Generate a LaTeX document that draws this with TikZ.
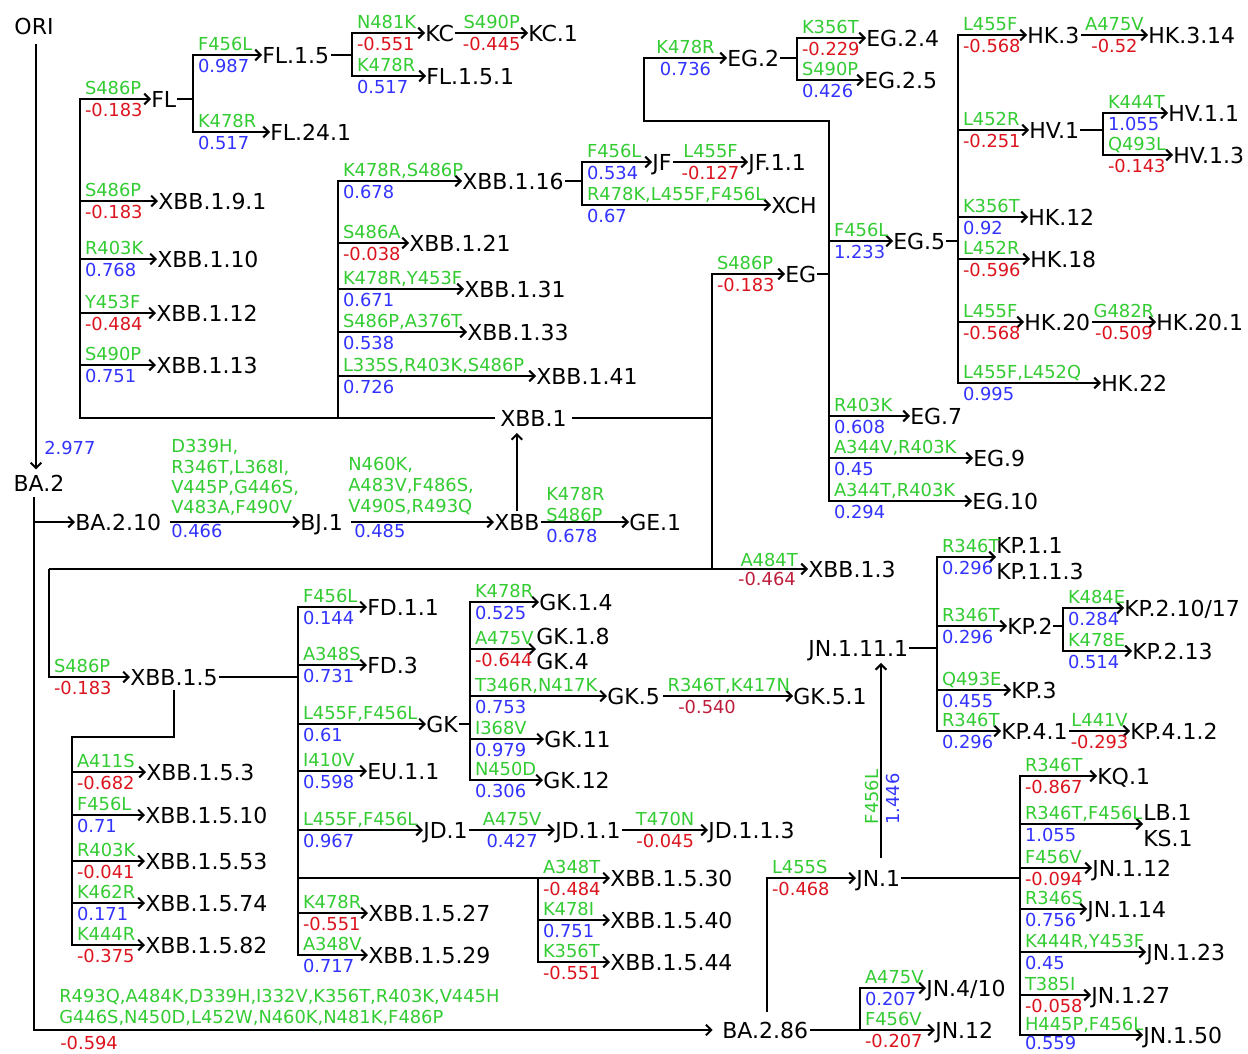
\documentclass[tikz,border=0pt]{standalone}
\usepackage{fontspec}
\setmainfont{DejaVu Sans}
\usetikzlibrary{arrows.meta}
\definecolor{cg}{RGB}{51,204,51}
\definecolor{cb}{RGB}{51,51,255}
\definecolor{cr}{RGB}{220,20,30}
\definecolor{crr}{RGB}{190,30,60}
\newcommand\bigf{\fontsize{16.5}{19}\selectfont}
\newcommand\smf{\fontsize{13.4}{16}\selectfont}
\newcommand\tbr[5]{\draw[ar] (#2.west -| #1) -- node[gup]{#3} node[ndn,text=#5]{#4} (#2.west);}
\newcommand\tmid[5]{\draw[ar] ([xshift=1pt]#1.east) -- node[gmid]{#3} node[nmid,text=#5]{#4} (#2.west);}
\tikzset{
  ln/.style={line width=1.5pt, line cap=rect},
  ar/.style={line width=1.5pt, -{Straight Barb[length=4pt,width=8pt]}},
  nd/.style={font=\bigf, inner sep=0pt, text height=12.03pt, text depth=0pt, anchor=west},
  pt/.style={inner sep=0pt, minimum size=0pt, anchor=west},
  sl/.style={font=\smf, inner sep=0pt, text height=9.7pt, text depth=0pt},
  gup/.style={sl, text=cg, pos=0, anchor=south west, xshift=3pt, yshift=2.6pt},
  ndn/.style={sl, pos=0, anchor=north west, xshift=3pt, yshift=-2.6pt},
  gmid/.style={sl, text=cg, midway, anchor=south, yshift=2.6pt},
  nmid/.style={sl, midway, anchor=north, yshift=-2.6pt},
  gl/.style={sl, text=cg, anchor=west},
}
\begin{document}
\begin{tikzpicture}[x=0.75pt,y=-0.75pt]
\useasboundingbox (0,0) rectangle (1248,1053);
\fill[white] (0,0) rectangle (1248,1053);
% vertical line positions
\foreach \v in {34,36,49,72,80,174,193,298,338,352,470,538,582,644,712,767,797,829,860,881,937,958,1020,1063,1103}
  {\coordinate (v\v) at (\v,0);}
\coordinate (c121) at (0,121);
\coordinate (c737) at (0,737);

% nodes
\node[nd, anchor=center] (ORI) at (34,26) {ORI};
\node[nd, anchor=center] (BA2) at (39,483) {BA.2};
\node[nd] (BA210) at (75,522) {BA.2.10};
\node[nd] (BJ1) at (300,522) {BJ.1};
\node[nd] (XBB) at (494,522) {XBB};
\node[nd] (GE1) at (629,522) {GE.1};
\node[nd] (XBB1) at (500,418) {XBB.1};
\node[nd] (FL) at (151,99) {FL};
\node[nd] (FL15) at (262,55) {FL.1.5};
\node[nd] (FL241) at (270,132) {FL.24.1};
\node[nd] (KC) at (425,33) {KC};
\node[nd] (KC1) at (528,33) {KC.1};
\node[nd] (FL151) at (426,76) {FL.1.5.1};
\node[nd] (XBB191) at (158,201) {XBB.1.9.1};
\node[nd] (XBB110) at (157,259) {XBB.1.10};
\node[nd] (XBB112) at (156,313) {XBB.1.12};
\node[nd] (XBB113) at (156,365) {XBB.1.13};
\node[nd] (XBB116) at (462,181) {XBB.1.16};
\node[nd] (XBB121) at (409,243) {XBB.1.21};
\node[nd] (XBB131) at (464,289) {XBB.1.31};
\node[nd] (XBB133) at (467,332) {XBB.1.33};
\node[nd] (XBB141) at (536,376) {XBB.1.41};
\node[nd] (JF) at (652,162) {JF};
\node[nd] (JF11) at (748,162) {JF.1.1};
\node[nd] (XCH) at (771,205) {XCH};
\node[nd] (EG2) at (727,58) {EG.2};
\node[nd] (EG24) at (866,38) {EG.2.4};
\node[nd] (EG25) at (864,80) {EG.2.5};
\node[nd] (EG) at (785,274) {EG};
\node[nd] (EG5) at (893,241) {EG.5};
\node[nd] (EG7) at (910,416) {EG.7};
\node[nd] (EG9) at (973,458) {EG.9};
\node[nd] (EG10) at (972,501) {EG.10};
\node[nd] (HK3) at (1027,35) {HK.3};
\node[nd] (HK314) at (1148,35) {HK.3.14};
\node[nd] (HV1) at (1029,130) {HV.1};
\node[nd] (HV11) at (1168,113) {HV.1.1};
\node[nd] (HV13) at (1173,155) {HV.1.3};
\node[nd] (HK12) at (1028,217) {HK.12};
\node[nd] (HK18) at (1030,259) {HK.18};
\node[nd] (HK20) at (1024,322) {HK.20};
\node[nd] (HK201) at (1156,322) {HK.20.1};
\node[nd] (HK22) at (1101,383) {HK.22};
\node[nd] (XBB13) at (808,569) {XBB.1.3};
\node[nd] (XBB15) at (130,677) {XBB.1.5};
\node[nd] (FD11) at (367,607) {FD.1.1};
\node[nd] (FD3) at (367,665) {FD.3};
\node[nd] (GK) at (426,724) {GK};
\node[nd] (EU11) at (367,771) {EU.1.1};
\node[nd] (JD1) at (423,830) {JD.1};
\node[nd] (JD11) at (555,830) {JD.1.1};
\node[nd] (JD113) at (708,830) {JD.1.1.3};
\node[nd] (XBB1527) at (368,913) {XBB.1.5.27};
\node[nd] (XBB1529) at (368,955) {XBB.1.5.29};
\node[nd] (XBB1530) at (610,878) {XBB.1.5.30};
\node[nd] (XBB1540) at (610,920) {XBB.1.5.40};
\node[nd] (XBB1544) at (610,962) {XBB.1.5.44};
\node[nd] (GK14) at (539,602) {GK.1.4};
\node[nd] (GK18) at (536,636) {GK.1.8};
\node[nd] (GK4) at (536,661) {GK.4};
\node[pt] (GK184) at (536,649) {};
\node[nd] (GK5) at (607,696) {GK.5};
\node[nd] (GK51) at (793,696) {GK.5.1};
\node[nd] (GK11) at (544,739) {GK.11};
\node[nd] (GK12) at (543,780) {GK.12};
\node[nd] (XBB153) at (146,772) {XBB.1.5.3};
\node[nd] (XBB1510) at (145,815) {XBB.1.5.10};
\node[nd] (XBB1553) at (145,861) {XBB.1.5.53};
\node[nd] (XBB1574) at (145,903) {XBB.1.5.74};
\node[nd] (XBB1582) at (145,945) {XBB.1.5.82};
\node[nd] (BA286) at (722,1030) {BA.2.86};
\node[nd] (JN1) at (856,878) {JN.1};
\node[nd] (JN111) at (808,648) {JN.1.11.1};
\node[nd] (KP11) at (996,545) {KP.1.1};
\node[nd] (KP113) at (996,571) {KP.1.1.3};
\node[pt] (KPc) at (996,557) {};
\node[nd] (KP2) at (1007,626) {KP.2};
\node[nd] (KP210) at (1124,608) {KP.2.10/17};
\node[nd] (KP213) at (1132,651) {KP.2.13};
\node[nd] (KP3) at (1011,690) {KP.3};
\node[nd] (KP41) at (1001,731) {KP.4.1};
\node[nd] (KP412) at (1130,731) {KP.4.1.2};
\node[nd] (KQ1) at (1097,776) {KQ.1};
\node[nd] (LB1) at (1143,812) {LB.1};
\node[nd] (KS1) at (1143,838) {KS.1};
\node[pt] (LBc) at (1143,824) {};
\node[nd] (JN112) at (1092,868) {JN.1.12};
\node[nd] (JN114) at (1087,909) {JN.1.14};
\node[nd] (JN123) at (1146,952) {JN.1.23};
\node[nd] (JN127) at (1091,995) {JN.1.27};
\node[nd] (JN150) at (1143,1035) {JN.1.50};
\node[nd] (JN410) at (926,988) {JN.4/10};
\node[nd] (JN12) at (935,1030) {JN.12};

% ORI -> BA.2
\draw[ar, shorten <=7.5pt, shorten >=4pt] (v36 |- ORI.south) -- (v36 |- BA2.north);
\node[sl, text=cb, anchor=west] (l2977) at (44,448) {2.977};
% BA.2 trunk
\draw[ar, shorten <=4.5pt, shorten >=7pt] (v34 |- BA2.south) -- (v34 |- BA286.west) -- (BA286.west);
\node[gl] (lb1) at (59,996) {R493Q,A484K,D339H,I332V,K356T,R403K,V445H};
\node[gl] (lb2) at (59,1017) {G446S,N450D,L452W,N460K,N481K,F486P};
\node[sl, text=cr, anchor=west] (lb3) at (60,1043) {-0.594};
\draw[ar] (v34 |- BA210.west) -- (BA210.west);
\draw[ar] ([xshift=6.5pt]BA210.east) -- (BJ1.west);
\node[gl] (lj1) at (171,446) {D339H,};
\node[gl] (lj2) at (171,467) {R346T,L368I,};
\node[gl] (lj3) at (171,487) {V445P,G446S,};
\node[gl] (lj4) at (171,507) {V483A,F490V};
\node[sl, text=cb, anchor=west] (lj5) at (171,531) {0.466};
\draw[ar] ([xshift=6pt]BJ1.east) -- (XBB.west);
\node[gl] (lx1) at (348,464) {N460K,};
\node[gl] (lx2) at (348,485) {A483V,F486S,};
\node[gl] (lx3) at (348,506) {V490S,R493Q};
\node[sl, text=cb, anchor=west] (lx4) at (354,531) {0.485};
\draw[ar] ([xshift=1pt]XBB.east) -- (GE1.west);
\node[gl] (lg1) at (546,494) {K478R};
\node[gl] (lg2) at (546,515) {S486P};
\node[sl, text=cb, anchor=west] (lg3) at (546,536) {0.678};
\draw[ar, shorten <=2pt, shorten >=5pt] (XBB.north) -- (XBB.north |- XBB1.south);

% XBB.1 left part
\draw[ln] ([xshift=-4.5pt]XBB1.west) -- (v80 |- XBB1.west);
\draw[ln] (v80 |- FL.west) -- (v80 |- XBB1.west);
\draw[ln] (v338 |- XBB116.west) -- (v338 |- XBB1.west);
\tbr{v80}{FL}{S486P}{-0.183}{cr}
\tbr{v80}{XBB191}{S486P}{-0.183}{cr}
\tbr{v80}{XBB110}{R403K}{0.768}{cb}
\tbr{v80}{XBB112}{Y453F}{-0.484}{cr}
\tbr{v80}{XBB113}{S490P}{0.751}{cb}
\draw[ln] ([xshift=1.5pt]FL.east) -- (v193 |- FL.east);
\draw[ln] (v193 |- FL15.west) -- (v193 |- FL241.west);
\tbr{v193}{FL15}{F456L}{0.987}{cb}
\tbr{v193}{FL241}{K478R}{0.517}{cb}
\draw[ln] ([xshift=2pt]FL15.east) -- (v352 |- FL15.east);
\draw[ln] (v352 |- KC.west) -- (v352 |- FL151.west);
\tbr{v352}{KC}{N481K}{-0.551}{cr}
\tbr{v352}{FL151}{K478R}{0.517}{cb}
\tmid{KC}{KC1}{S490P}{-0.445}{cr}
\tbr{v338}{XBB116}{K478R,S486P}{0.678}{cb}
\tbr{v338}{XBB121}{S486A}{-0.038}{cr}
\tbr{v338}{XBB131}{K478R,Y453F}{0.671}{cb}
\tbr{v338}{XBB133}{S486P,A376T}{0.538}{cb}
\tbr{v338}{XBB141}{L335S,R403K,S486P}{0.726}{cb}
\draw[ln] ([xshift=1.5pt]XBB116.east) -- (v582 |- XBB116.east);
\draw[ln] (v582 |- JF.west) -- (v582 |- XCH.west);
\tbr{v582}{JF}{F456L}{0.534}{cb}
\tbr{v582}{XCH}{R478K,L455F,F456L}{0.67}{cb}
\tmid{JF}{JF11}{L455F}{-0.127}{cr}

% XBB.1 right part and EG
\draw[ln] ([xshift=5pt]XBB1.east) -- (v712 |- XBB1.east);
\draw[ln] (v712 |- EG.west) -- (v712 |- XBB13.west);
\tbr{v712}{EG}{S486P}{-0.183}{cr}
\draw[ln] ([xshift=1.5pt]EG.east) -- (v829 |- EG.east);
\draw[ln] (v829 |- c121) -- (v829 |- EG10.west);
\draw[ar] (v829 |- c121) -- (v644 |- c121) -- (v644 |- EG2.west) -- node[gmid]{K478R} node[nmid,text=cb]{0.736} (EG2.west);
\draw[ln] ([xshift=1.5pt]EG2.east) -- (v797 |- EG2.east);
\draw[ln] (v797 |- EG24.west) -- (v797 |- EG25.west);
\tbr{v797}{EG24}{K356T}{-0.229}{cr}
\tbr{v797}{EG25}{S490P}{0.426}{cb}
\tbr{v829}{EG5}{F456L}{1.233}{cb}
\tbr{v829}{EG7}{R403K}{0.608}{cb}
\tbr{v829}{EG9}{A344V,R403K}{0.45}{cb}
\tbr{v829}{EG10}{A344T,R403K}{0.294}{cb}
\draw[ln] ([xshift=1pt]EG5.east) -- (v958 |- EG5.east);
\draw[ln] (v958 |- HK3.west) -- (v958 |- HK22.west);
\tbr{v958}{HK3}{L455F}{-0.568}{cr}
\tbr{v958}{HV1}{L452R}{-0.251}{cr}
\tbr{v958}{HK12}{K356T}{0.92}{cb}
\tbr{v958}{HK18}{L452R}{-0.596}{cr}
\tbr{v958}{HK20}{L455F}{-0.568}{cr}
\tbr{v958}{HK22}{L455F,L452Q}{0.995}{cb}
\tmid{HK3}{HK314}{A475V}{-0.52}{cr}
\tmid{HK20}{HK201}{G482R}{-0.509}{cr}
\draw[ln] ([xshift=1.5pt]HV1.east) -- (v1103 |- HV1.east);
\draw[ln] (v1103 |- HV11.west) -- (v1103 |- HV13.west);
\tbr{v1103}{HV11}{K444T}{1.055}{cb}
\tbr{v1103}{HV13}{Q493L}{-0.143}{cr}

% XBB.1.3 and XBB.1.5
\draw[ar] (v49 |- XBB13.west) -- (XBB13.west);
\node[gl, anchor=east] (la1) at (798,560) {A484T};
\node[sl, text=crr, anchor=east] (la2) at (796,579) {-0.464};
\draw[ar] (v49 |- XBB13.west) -- (v49 |- XBB15.west) -- node[gup]{S486P} node[ndn,text=cr]{-0.183} (XBB15.west);
\draw[ln] ([xshift=1.5pt]XBB15.east) -- (v298 |- XBB15.east);
\draw[ln] (v298 |- FD11.west) -- (v298 |- XBB1529.west);
\tbr{v298}{FD11}{F456L}{0.144}{cb}
\tbr{v298}{FD3}{A348S}{0.731}{cb}
\tbr{v298}{GK}{L455F,F456L}{0.61}{cb}
\tbr{v298}{EU11}{I410V}{0.598}{cb}
\tbr{v298}{JD1}{L455F,F456L}{0.967}{cb}
\tbr{v298}{XBB1527}{K478R}{-0.551}{cr}
\tbr{v298}{XBB1529}{A348V}{0.717}{cb}
\draw[ln] (v298 |- XBB1530.west) -- (v538 |- XBB1530.west);
\draw[ln] (v538 |- XBB1530.west) -- (v538 |- XBB1544.west);
\tbr{v538}{XBB1530}{A348T}{-0.484}{cr}
\tbr{v538}{XBB1540}{K478I}{0.751}{cb}
\tbr{v538}{XBB1544}{K356T}{-0.551}{cr}
\tmid{JD1}{JD11}{A475V}{0.427}{cb}
\tmid{JD11}{JD113}{T470N}{-0.045}{cr}
\draw[ln] ([xshift=1.5pt]GK.east) -- (v470 |- GK.east);
\draw[ln] (v470 |- GK14.west) -- (v470 |- GK12.west);
\tbr{v470}{GK14}{K478R}{0.525}{cb}
\tbr{v470}{GK184}{A475V}{-0.644}{cr}
\tbr{v470}{GK5}{T346R,N417K}{0.753}{cb}
\tbr{v470}{GK11}{I368V}{0.979}{cb}
\tbr{v470}{GK12}{N450D}{0.306}{cb}
\draw[ar] ([xshift=2pt]GK5.east) -- node[gup]{R346T,K417N} (GK51.west);
\node[sl, text=crr, anchor=west] (l540) at (678,707) {-0.540};
\draw[ln] ([yshift=-4pt]XBB15.south -| v174) -- (v174 |- c737) -- (v72 |- c737) -- (v72 |- XBB1582.west);
\tbr{v72}{XBB153}{A411S}{-0.682}{cr}
\tbr{v72}{XBB1510}{F456L}{0.71}{cb}
\tbr{v72}{XBB1553}{R403K}{-0.041}{cr}
\tbr{v72}{XBB1574}{K462R}{0.171}{cb}
\tbr{v72}{XBB1582}{K444R}{-0.375}{cr}

% BA.2.86 and JN.1
\draw[ar, shorten <=7.5pt] (v767 |- BA286.north) -- (v767 |- JN1.west) -- node[gup]{L455S} node[ndn,text=cr]{-0.468} (JN1.west);
\draw[ln] ([xshift=2pt]BA286.east) -- (v860 |- BA286.east);
\draw[ln] (v860 |- JN410.west) -- (v860 |- JN12.west);
\tbr{v860}{JN410}{A475V}{0.207}{cb}
\tbr{v860}{JN12}{F456V}{-0.207}{cr}
\draw[ar, shorten <=9pt, shorten >=5pt] (v881 |- JN1.north) -- (v881 |- JN111.south);
\node[sl, text=cg, rotate=90] (lf1) at (872,797) {F456L};
\node[sl, text=cb, rotate=90] (lf2) at (893,799) {1.446};
\draw[ln] ([xshift=1.5pt]JN111.east) -- (v937 |- JN111.east);
\draw[ln] (v937 |- KPc.west) -- (v937 |- KP41.west);
\tbr{v937}{KPc}{R346T}{0.296}{cb}
\tbr{v937}{KP2}{R346T}{0.296}{cb}
\tbr{v937}{KP3}{Q493E}{0.455}{cb}
\tbr{v937}{KP41}{R346T}{0.296}{cb}
\draw[ln] ([xshift=1pt]KP2.east) -- (v1063 |- KP2.east);
\draw[ln] (v1063 |- KP210.west) -- (v1063 |- KP213.west);
\tbr{v1063}{KP210}{K484E}{0.284}{cb}
\tbr{v1063}{KP213}{K478E}{0.514}{cb}
\tmid{KP41}{KP412}{L441V}{-0.293}{cr}
\draw[ln] ([xshift=1.5pt]JN1.east) -- (v1020 |- JN1.east);
\draw[ln] (v1020 |- KQ1.west) -- (v1020 |- JN150.west);
\tbr{v1020}{KQ1}{R346T}{-0.867}{cr}
\tbr{v1020}{LBc}{R346T,F456L}{1.055}{cb}
\tbr{v1020}{JN112}{F456V}{-0.094}{cr}
\tbr{v1020}{JN114}{R346S}{0.756}{cb}
\tbr{v1020}{JN123}{K444R,Y453F}{0.45}{cb}
\tbr{v1020}{JN127}{T385I}{-0.058}{cr}
\draw[ar] (JN150.west -| v1020) -- node[gup]{H445P,F456L} node[ndn,text=cb,yshift=2.2pt]{0.559} (JN150.west);
\end{tikzpicture}
\end{document}
